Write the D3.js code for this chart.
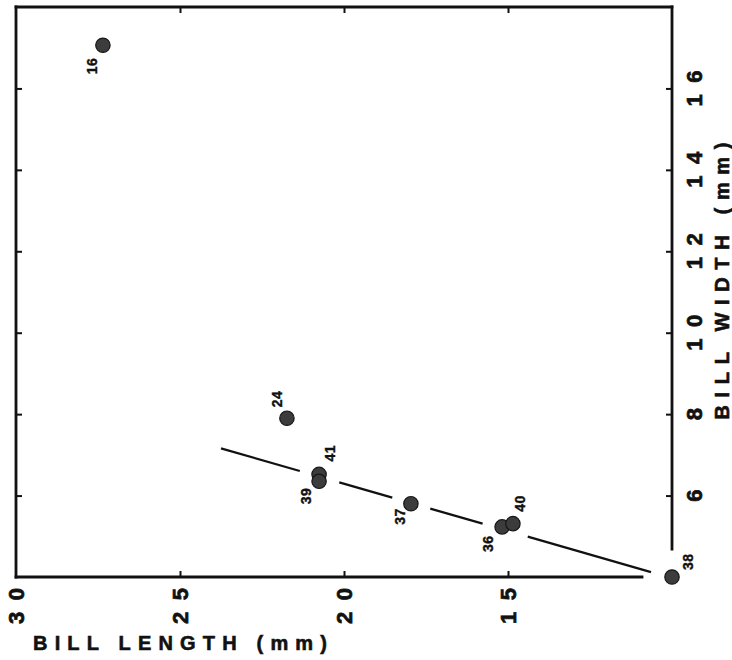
<!DOCTYPE html>
<html>
<head>
<meta charset="utf-8">
<script src="https://cdn.jsdelivr.net/npm/d3@7"></script>
<style>
  html, body { margin: 0; padding: 0; background: #fff; }
  svg { display: block; }
  text { font-family: "Liberation Sans", Arial, Helvetica, sans-serif; font-weight: bold; fill: #111; stroke: #111; }
</style>
</head>
<body>
<svg id="chart" width="732" height="660"></svg>
<script>
// ---- data ----
const specimens = ["16", "24", "41", "39", "37", "36", "40", "38"];
const billLength = [27.35, 21.74, 20.76, 20.76, 17.96, 15.18, 14.85, 10.0];
const billWidth  = [17.06, 7.90, 6.52, 6.35, 5.80, 5.23, 5.31, 4.0];
const fitLength = [23.75, 10.64];
const fitWidth  = [7.16, 4.12];
const lengthTicks = [30, 25, 20, 15];
const widthTicks = [6, 8, 10, 12, 14, 16];
// label offsets (layout, px) per specimen
const labelDx = [-11, -10, 11, -13, -11, -14, 7, 16];
const labelDy = [21, -19, -21, 15, 13, 17, -20, -15];

// ---- layout ----
const svg = d3.select("#chart");
const x = d3.scaleLinear().domain([30, 10]).range([16, 672]);
const y = d3.scaleLinear().domain([4, 18]).range([577, 7]);
const X0 = x(30), X1 = x(10), Y0 = y(4), Y1 = y(18);
const frameW = 2.8;

// frame (bottom-right corner open as in the original)
const frame = svg.append("g").attr("stroke", "#111").attr("stroke-width", frameW).attr("fill", "none").attr("stroke-linecap", "square");
frame.append("line").attr("x1", X0).attr("y1", Y1).attr("x2", X0).attr("y2", Y0); // left
frame.append("line").attr("x1", X0).attr("y1", Y0).attr("x2", 642).attr("y2", Y0); // bottom
frame.append("line").attr("x1", X0).attr("y1", Y1).attr("x2", X1).attr("y2", Y1); // top
frame.append("line").attr("x1", X1).attr("y1", Y1).attr("x2", X1).attr("y2", 549); // right

// ticks via d3 axes (inward)
function tickOnly(g) { g.select(".domain").remove(); g.selectAll("text").remove(); g.selectAll("line").attr("stroke", "#111").attr("stroke-width", 2); }
svg.append("g").attr("transform", `translate(0,${Y0})`).call(d3.axisBottom(x).tickValues([25, 20, 15]).tickSize(-6)).call(tickOnly);
svg.append("g").attr("transform", `translate(0,${Y1})`).call(d3.axisTop(x).tickValues([25, 20, 15]).tickSize(-6)).call(tickOnly);
svg.append("g").attr("transform", `translate(${X0},0)`).call(d3.axisLeft(y).tickValues(widthTicks).tickSize(-6)).call(tickOnly);
svg.append("g").attr("transform", `translate(${X1},0)`).call(d3.axisRight(y).tickValues(widthTicks).tickSize(-6)).call(tickOnly);

// tick labels (rotated)
svg.append("g").selectAll("text").data(lengthTicks).join("text")
  .attr("transform", d => `translate(${x(d)},606) rotate(-90)`)
  .attr("text-anchor", "middle").attr("dominant-baseline", "central")
  .attr("font-size", 22).attr("stroke-width", 0.7).attr("textLength", 36).attr("lengthAdjust", "spacing")
  .text(d => d);
svg.append("g").selectAll("text").data(widthTicks).join("text")
  .attr("transform", d => `translate(694,${y(d)}) rotate(-90)`)
  .attr("text-anchor", "middle").attr("dominant-baseline", "central")
  .attr("font-size", 22).attr("stroke-width", 0.7).attr("textLength", d => String(d).length > 1 ? 36 : 13).attr("lengthAdjust", "spacing")
  .text(d => d);

// axis titles
svg.append("text").attr("x", 33).attr("y", 650)
  .attr("font-size", 20).attr("stroke-width", 0.6).attr("textLength", 294).attr("lengthAdjust", "spacing")
  .text("BILL LENGTH (mm)");
svg.append("text").attr("transform", "translate(722,281) rotate(-90)")
  .attr("text-anchor", "middle").attr("dominant-baseline", "central")
  .attr("font-size", 20).attr("stroke-width", 0.6).attr("textLength", 277).attr("lengthAdjust", "spacing")
  .text("BILL WIDTH (mm)");

// regression line broken around points
const pts = specimens.map((s, i) => [x(billLength[i]), y(billWidth[i])]);
const ax = x(fitLength[0]), ay = y(fitWidth[0]), bx = x(fitLength[1]), by = y(fitWidth[1]);
const N = 600, gapR = 19.5;
const segs = []; let cur = null;
for (let k = 0; k <= N; k++) {
  const t = k / N, px = ax + (bx - ax) * t, py = ay + (by - ay) * t;
  const near = pts.some(p => Math.hypot(p[0] - px, p[1] - py) < gapR);
  if (!near) { if (!cur) { cur = []; segs.push(cur); } cur.push([px, py]); }
  else cur = null;
}
svg.append("g").selectAll("path").data(segs.filter(s => s.length > 1)).join("path")
  .attr("d", d => d3.line()([d[0], d[d.length - 1]]))
  .attr("stroke", "#111").attr("stroke-width", 2.2).attr("fill", "none");

// points
svg.append("g").selectAll("circle").data(specimens).join("circle")
  .attr("cx", (d, i) => x(billLength[i])).attr("cy", (d, i) => y(billWidth[i]))
  .attr("r", 7.2).attr("fill", "#3c3c3c").attr("stroke", "#161616").attr("stroke-width", 1.2);

// point labels
svg.append("g").selectAll("text").data(specimens).join("text")
  .attr("transform", (d, i) => `translate(${x(billLength[i]) + labelDx[i]},${y(billWidth[i]) + labelDy[i]}) rotate(-90)`)
  .attr("text-anchor", "middle").attr("dominant-baseline", "central")
  .attr("font-size", 14).attr("stroke-width", 0.4).attr("textLength", 16).attr("lengthAdjust", "spacing")
  .text(d => d);
</script>
</body>
</html>
